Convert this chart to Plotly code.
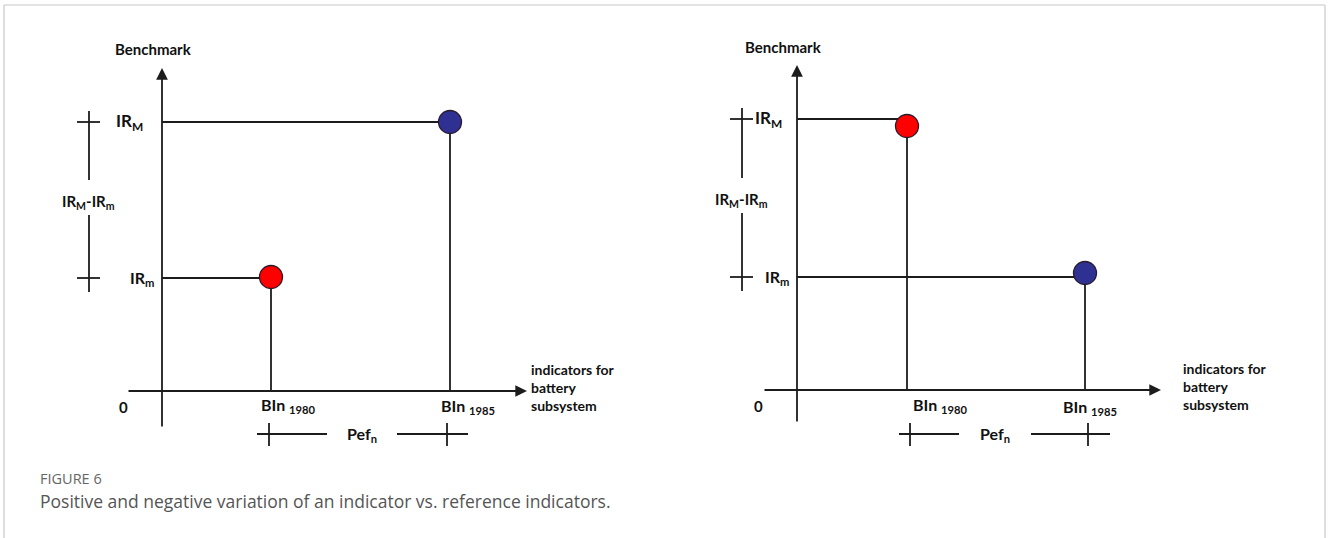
import plotly.graph_objects as go

# ---------------- data (diagram values, origin of each panel = 0) ----------------
panels = ["positive", "negative"]
level_names = ["IR<sub>M</sub>", "IR<sub>m</sub>"]
bin_labels = ["BIn <sub>1980</sub>", "BIn <sub>1985</sub>"]
point_colors = ["#ff0000", "#2e3192"]          # 1980 (red), 1985 (blue)

# left panel: 1980 at IRm, 1985 at IRM
left_bin_x = [1.09, 2.88]
left_levels = [2.69, 1.13]                      # IRM, IRm
left_point_level = [1.13, 2.69]                 # level reached by 1980, 1985
left_dot_y = [1.14, 2.69]

# right panel: 1980 at IRM, 1985 at IRm
right_bin_x = [1.10, 2.88]
right_levels = [2.71, 1.13]
right_point_level = [2.71, 1.13]
right_dot_y = [2.64, 1.17]

LINE = "#1c1c1c"
FONT = "Lato"
W, H = 1328, 538

fig = go.Figure()


def add_panel(ax, bin_x, levels, point_level, dot_y, cfg):
    xa, ya = ("x", "y") if ax == 1 else ("x2", "y2")
    xs, ys = [], []
    # guide lines for each point
    for bx, lv in zip(bin_x, point_level):
        xs += [0, bx, None, bx, bx, None]
        ys += [lv, lv, None, 0, lv, None]
    # left bracket (IRM - IRm)
    bxk = cfg["bracket_x"]
    for lv in levels:
        xs += [bxk - 0.12, bxk + 0.11, None]
        ys += [lv, lv, None]
    xs += [bxk, bxk, None, bxk, bxk, None]
    ys += [levels[0] + 0.11, cfg["gap_top"], None, cfg["gap_bot"], levels[1] - 0.14, None]
    # bottom bracket (Pefn)
    py = cfg["pef_y"]
    xs += [cfg["pef_l"][0], cfg["pef_l"][1], None, cfg["pef_r"][0], cfg["pef_r"][1], None]
    ys += [py, py, None, py, py, None]
    for tx in cfg["pef_ticks"]:
        xs += [tx, tx, None]
        ys += [py + 0.11, py - 0.12, None]
    fig.add_trace(go.Scatter(x=xs, y=ys, mode="lines", xaxis=xa, yaxis=ya,
                             line=dict(color=LINE, width=1.8), hoverinfo="skip",
                             showlegend=False))
    # dots
    fig.add_trace(go.Scatter(x=bin_x, y=dot_y, mode="markers", xaxis=xa, yaxis=ya,
                             marker=dict(size=23, color=point_colors,
                                         line=dict(color="#2a1a2a", width=1.3)),
                             hoverinfo="skip", showlegend=False))
    # axes arrows
    fig.add_annotation(x=cfg["x_tip"], y=0, ax=cfg["x_tail"], ay=0, xref=xa, yref=ya,
                       axref=xa, ayref=ya, showarrow=True, arrowhead=2, arrowsize=1.3,
                       arrowwidth=1.8, arrowcolor=LINE, text="")
    fig.add_annotation(x=0, y=cfg["y_tip"], ax=0, ay=cfg["y_tail"], xref=xa, yref=ya,
                       axref=xa, ayref=ya, showarrow=True, arrowhead=2, arrowsize=1.3,
                       arrowwidth=1.8, arrowcolor=LINE, text="")

    def txt(x, y, t, size, anchor="center"):
        fig.add_annotation(x=x, y=y, xref=xa, yref=ya, text=t, showarrow=False,
                           xanchor=anchor, yanchor="middle", align=anchor if anchor != "right" else "right",
                           font=dict(family=FONT, size=size, color="#111"))

    txt(cfg["bench_x"], cfg["bench_y"], "<b>Benchmark</b>", 15)
    txt(cfg["lvl_x"][0], levels[0], "<b>" + level_names[0] + "</b>", 17, cfg["lvl_anchor"])
    txt(cfg["lvl_x"][1], levels[1], "<b>" + level_names[1] + "</b>", 16, cfg["lvl_anchor"])
    txt(bxk - 0.01, cfg["diff_y"], "<b>" + level_names[0] + "-" + level_names[1] + "</b>", 15)
    txt(-0.39, -0.16, "<b>0</b>", 15)
    for i in range(2):
        txt(cfg["bin_lab_x"][i], cfg["bin_lab_y"][i], "<b>" + bin_labels[i] + "</b>", 16)
    txt(cfg["pef_x"], py, "<b>Pef<sub>n</sub></b>", 16)
    txt(cfg["ind_x"], 0.04, "<b>indicators for<br>battery<br>subsystem</b>", 14, "left")


add_panel(1, left_bin_x, left_levels, left_point_level, left_dot_y, dict(
    bracket_x=-0.73, gap_top=2.11, gap_bot=1.76, diff_y=1.89,
    pef_y=-0.43, pef_l=(0.95, 1.65), pef_r=(2.35, 3.06), pef_ticks=(1.07, 2.85), pef_x=2.00,
    x_tip=3.65, x_tail=-0.35, y_tip=3.23, y_tail=-0.37,
    bench_x=-0.09, bench_y=3.42, lvl_x=(-0.17, -0.06), lvl_anchor="right",
    bin_lab_x=(1.26, 3.06), bin_lab_y=(-0.14, -0.15), ind_x=3.67))

add_panel(2, right_bin_x, right_levels, right_point_level, right_dot_y, dict(
    bracket_x=-0.55, gap_top=2.12, gap_bot=1.77, diff_y=1.90,
    pef_y=-0.44, pef_l=(1.02, 1.62), pef_r=(2.34, 3.13), pef_ticks=(1.13, 2.91), pef_x=1.98,
    x_tip=3.64, x_tail=-0.34, y_tip=3.25, y_tail=-0.33,
    bench_x=-0.14, bench_y=3.43, lvl_x=(-0.44, -0.34), lvl_anchor="left",
    bin_lab_x=(1.43, 2.93), bin_lab_y=(-0.15, -0.17), ind_x=3.84))

# frame
FR = "#c8c8c8"
for x0, y0, x1, y1 in [(4, 5, 1325, 5), (4, 5, 4, 538), (1325, 5, 1325, 538)]:
    fig.add_shape(type="line", xref="paper", yref="paper",
                  x0=x0 / W, x1=x1 / W, y0=1 - y0 / H, y1=1 - y1 / H,
                  line=dict(color=FR, width=1.2))

# caption
fig.add_annotation(xref="paper", yref="paper", x=38 / W, y=1 - 478 / H, text="FIGURE 6",
                   showarrow=False, xanchor="left", yanchor="middle",
                   font=dict(family="Open Sans", size=14.5, color="#666"))
fig.add_annotation(xref="paper", yref="paper", x=38 / W, y=1 - 501 / H,
                   text="Positive and negative variation of an indicator vs. reference indicators.",
                   showarrow=False, xanchor="left", yanchor="middle",
                   font=dict(family="Open Sans", size=17.5, color="#555"))

ax_common = dict(visible=False, showgrid=False, zeroline=False, fixedrange=True)
fig.update_layout(
    width=W, height=H, autosize=False,
    margin=dict(l=0, r=0, t=0, b=0),
    paper_bgcolor="white", plot_bgcolor="white",
    xaxis=dict(domain=[0, 0.5], range=[-1.62, 5.02], **ax_common),
    yaxis=dict(domain=[0, 1], range=[-1.47, 3.91], **ax_common),
    xaxis2=dict(domain=[0.5, 1], range=[-1.33, 5.31], **ax_common),
    yaxis2=dict(domain=[0, 1], range=[-1.48, 3.90], anchor="x2", **ax_common),
    showlegend=False,
)

fig.write_html("out.html", post_script="document.body.style.margin='0';",
               config={"displayModeBar": False})
